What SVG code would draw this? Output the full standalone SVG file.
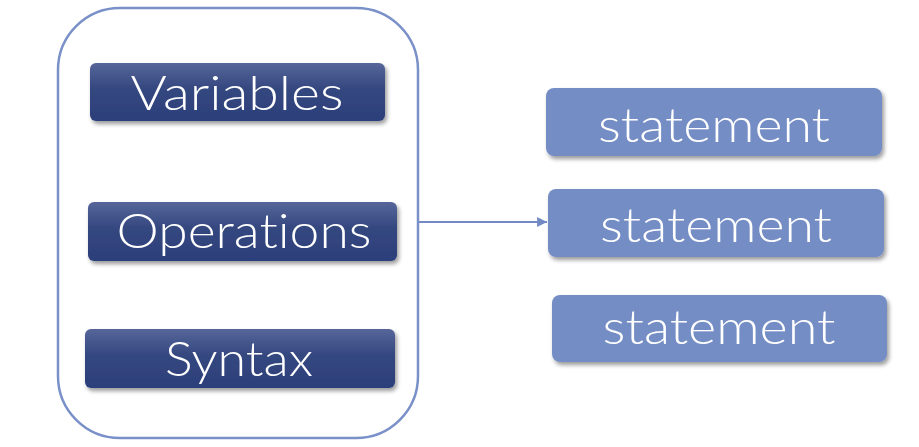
<svg xmlns="http://www.w3.org/2000/svg" width="919" height="447" viewBox="0 0 919 447">
<defs>
<linearGradient id="dark" x1="0" y1="0" x2="0" y2="1">
<stop offset="0" stop-color="#56669A"/>
<stop offset="0.45" stop-color="#34477F"/>
<stop offset="1" stop-color="#2C3F7B"/>
</linearGradient>
<filter id="sh" x="-10%" y="-20%" width="120%" height="150%">
<feGaussianBlur in="SourceAlpha" stdDeviation="2"/>
<feOffset dx="1.5" dy="3" result="b"/>
<feComponentTransfer><feFuncA type="linear" slope="0.4"/></feComponentTransfer>
<feMerge><feMergeNode/><feMergeNode in="SourceGraphic"/></feMerge>
</filter>
<marker id="ah" viewBox="0 0 10 10" refX="10" refY="5" markerWidth="5" markerHeight="4.5" markerUnits="strokeWidth" orient="auto">
<path d="M0,0 L10,5 L0,10 z" fill="#7289C4"/>
</marker>
</defs>
<style>
.dk{fill:url(#dark);filter:url(#sh)}
.lt{fill:#758DC5;filter:url(#sh)}
.t{font-family:"Lato","Open Sans","Liberation Sans",sans-serif;font-weight:300;font-size:48px;fill:#fff;text-anchor:middle;font-variant-ligatures:none;font-feature-settings:"liga" 0,"dlig" 0}
</style>
<g id="container">
<rect x="58" y="8" width="360" height="430" rx="62" ry="62" fill="#fff" stroke="#7A90C8" stroke-width="2.5"/>
</g>
<g id="variables">
<rect class="dk" x="90" y="63" width="295" height="58" rx="6"/>
<text class="t" x="237" y="110" textLength="213" lengthAdjust="spacingAndGlyphs">Variables</text>
</g>
<g id="operations">
<rect class="dk" x="88" y="202" width="309" height="59" rx="6"/>
<text class="t" x="244" y="248" textLength="255" lengthAdjust="spacingAndGlyphs">Operations</text>
</g>
<g id="syntax">
<rect class="dk" x="85" y="329" width="310" height="59" rx="6"/>
<text class="t" x="239" y="376" textLength="148" lengthAdjust="spacingAndGlyphs">Syntax</text>
</g>
<g id="statement1">
<rect class="lt" x="546" y="88" width="336" height="68" rx="8"/>
<text class="t" x="714" y="142" textLength="232" lengthAdjust="spacingAndGlyphs">statement</text>
</g>
<g id="statement2">
<rect class="lt" x="548" y="189" width="336" height="68" rx="8"/>
<text class="t" x="716" y="242" textLength="232" lengthAdjust="spacingAndGlyphs">statement</text>
</g>
<g id="statement3">
<rect class="lt" x="552" y="295" width="335" height="67" rx="8"/>
<text class="t" x="719" y="344" textLength="233" lengthAdjust="spacingAndGlyphs">statement</text>
</g>
<g id="connectors">
<line x1="419" y1="222" x2="547" y2="222" stroke="#7289C4" stroke-width="2.2" marker-end="url(#ah)"/>
</g>
</svg>
